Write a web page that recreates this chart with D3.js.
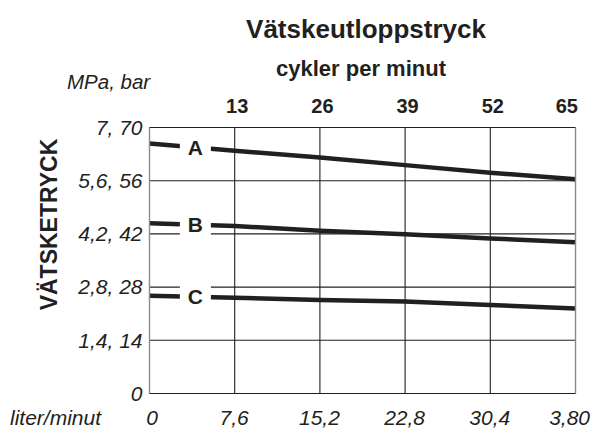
<!DOCTYPE html>
<html>
<head>
<meta charset="utf-8">
<script src="https://cdn.jsdelivr.net/npm/d3@7"></script>
<style>
  body { margin: 0; background: #fff; }
  svg { display: block; font-family: "Liberation Sans", Arial, sans-serif; }
</style>
</head>
<body>
<svg width="596" height="435"></svg>
<script>
// values
const cycles = [0, 13, 26, 39, 52, 65];
const flowLabels = ["0", "7,6", "15,2", "22,8", "30,4", "3,80"];
const pressureTicks = [0, 1.4, 2.8, 4.2, 5.6, 7];
const pressureLabels = ["0", "1,4, 14", "2,8, 28", "4,2, 42", "5,6, 56", "7, 70"];

const seriesNames = ["A", "B", "C"];
const seriesA = [6.58, 6.39, 6.21, 6.01, 5.81, 5.64];
const seriesB = [4.48, 4.41, 4.28, 4.19, 4.08, 3.98];
const seriesC = [2.57, 2.52, 2.46, 2.42, 2.33, 2.24];
const series = [seriesA, seriesB, seriesC];

const labelCycle = 7; // where the letters sit along the lines

const svg = d3.select("svg");
const plotLeft = 149.5, plotRight = 575.5, plotTop = 127.5, plotBottom = 393.5;

const x = d3.scaleLinear().domain([0, 65]).range([plotLeft, plotRight]);
const y = d3.scaleLinear().domain([0, 7]).range([plotBottom, plotTop]);

// title
svg.append("text")
  .attr("x", 366).attr("y", 38)
  .attr("text-anchor", "middle")
  .attr("font-size", 26).attr("font-weight", "bold")
  .attr("fill", "#231f20")
  .text("Vätskeutloppstryck");

svg.append("text")
  .attr("x", 361).attr("y", 76)
  .attr("text-anchor", "middle")
  .attr("font-size", 22).attr("font-weight", "bold")
  .attr("fill", "#231f20")
  .text("cykler per minut");

svg.append("text")
  .attr("x", 67).attr("y", 89)
  .attr("font-size", 20.5).attr("font-style", "italic")
  .attr("fill", "#231f20")
  .text("MPa, bar");

svg.append("text")
  .attr("transform", "translate(57,224.5) rotate(-90)")
  .attr("text-anchor", "middle")
  .attr("font-size", 23).attr("font-weight", "bold")
  .attr("fill", "#231f20")
  .text("VÄTSKETRYCK");

svg.append("text")
  .attr("x", 10).attr("y", 425)
  .attr("font-size", 21).attr("font-style", "italic")
  .attr("fill", "#231f20")
  .text("liter/minut");

// grid
const grid = svg.append("g").attr("stroke", "#231f20").attr("stroke-width", 1.1);
grid.selectAll(".h").data(pressureTicks).join("line")
  .attr("x1", plotLeft).attr("x2", plotRight)
  .attr("y1", d => y(d)).attr("y2", d => y(d));
grid.selectAll(".v").data(cycles.slice(1, -1)).join("line")
  .attr("x1", d => x(d)).attr("x2", d => x(d))
  .attr("y1", plotTop).attr("y2", plotBottom);

// left side labels
svg.append("g")
  .attr("transform", `translate(${plotLeft},0)`)
  .call(d3.axisLeft(y).tickValues(pressureTicks).tickSize(0).tickPadding(7)
    .tickFormat((d, i) => pressureLabels[i]))
  .call(g => g.select(".domain").remove())
  .call(g => g.selectAll("text")
    .attr("font-family", null).attr("font-size", 21)
    .attr("font-style", "italic").attr("fill", "#231f20"));

// top cycle labels
svg.append("g")
  .attr("transform", `translate(0,${plotTop - 15})`)
  .call(d3.axisTop(x).tickValues(cycles.slice(1)).tickSize(0).tickPadding(0))
  .call(g => g.select(".domain").remove())
  .call(g => g.selectAll("text")
    .attr("font-family", null).attr("font-size", 20)
    .attr("font-weight", "bold").attr("fill", "#231f20")
    .attr("text-anchor", d => d === 65 ? "end" : "middle")
    .attr("dx", 2));

// bottom flow labels
svg.append("g")
  .attr("transform", `translate(0,${plotBottom})`)
  .call(d3.axisBottom(x).tickValues(cycles).tickSize(0).tickPadding(17)
    .tickFormat((d, i) => flowLabels[i]))
  .call(g => g.select(".domain").remove())
  .call(g => g.selectAll("text")
    .attr("font-family", null).attr("font-size", 21)
    .attr("font-style", "italic").attr("fill", "#231f20")
    .attr("text-anchor", d => d === 65 ? "end" : "middle")
    .attr("dx", d => d === 65 ? 14 : d === 0 ? 2 : -1));

// curves
const line = d3.line().x((d, i) => x(cycles[i])).y(d => y(d));
svg.append("g").selectAll("path").data(series).join("path")
  .attr("d", line)
  .attr("fill", "none")
  .attr("stroke", "#231f20")
  .attr("stroke-width", 4.5);

// letters with white background
const interp = s => {
  const i = d3.bisectRight(cycles, labelCycle) - 1;
  const t = (labelCycle - cycles[i]) / (cycles[i + 1] - cycles[i]);
  return s[i] + t * (s[i + 1] - s[i]);
};
const lab = svg.append("g").selectAll("g").data(series).join("g")
  .attr("transform", d => `translate(${x(labelCycle)},${y(interp(d))})`);
lab.append("rect")
  .attr("x", -15.5).attr("y", -11).attr("width", 31).attr("height", 22)
  .attr("fill", "#fff");
lab.append("text")
  .attr("text-anchor", "middle").attr("dy", "0.36em")
  .attr("font-size", 21).attr("font-weight", "bold")
  .attr("fill", "#231f20")
  .text((d, i) => seriesNames[i]);

// frame
svg.append("line").attr("x1", plotLeft).attr("x2", plotRight).attr("y1", plotTop).attr("y2", plotTop)
  .attr("stroke", "#231f20").attr("stroke-width", 1.1);
svg.append("line").attr("x1", plotLeft).attr("x2", plotRight).attr("y1", plotBottom).attr("y2", plotBottom)
  .attr("stroke", "#231f20").attr("stroke-width", 1.1);
svg.selectAll(".side").data([plotLeft, plotRight]).join("line")
  .attr("x1", d => d).attr("x2", d => d).attr("y1", plotTop).attr("y2", plotBottom)
  .attr("stroke", "#8a8a8a").attr("stroke-width", 1.4);
</script>
</body>
</html>
